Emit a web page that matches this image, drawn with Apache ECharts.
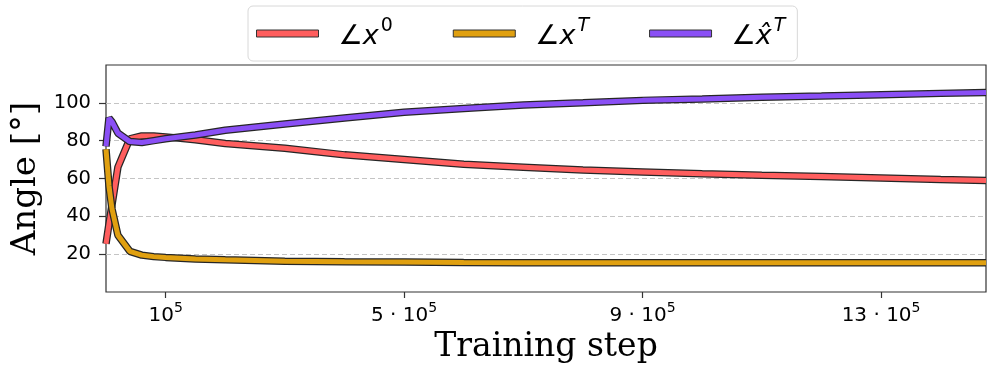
<!DOCTYPE html>
<html>
<head>
<meta charset="utf-8">
<script src="https://cdn.jsdelivr.net/npm/echarts@6/dist/echarts.min.js"></script>
<style>
  html, body { margin: 0; padding: 0; background: #fff; }
  #chart { width: 996px; height: 390px; }
</style>
</head>
<body>
<div id="chart"></div>
<script>
// training steps (x) and angles in degrees
const steps = [0, 5000, 10000, 20000, 40000, 60000, 80000, 100000, 150000, 200000, 300000, 400000,
    500000, 600000, 700000, 800000, 900000, 1000000, 1100000, 1200000, 1300000, 1400000, 1476000];
const angleX0 = [25.5, 36, 46, 66, 81, 82.5, 82.5, 82, 80.5, 78.5, 76, 72.5,
    70, 67.5, 66, 64.5, 63.5, 62.5, 61.7, 61, 60.3, 59.5, 59];
const angleXT = [75.5, 56, 44, 30, 21.5, 19.5, 18.7, 18.3, 17.5, 17, 16.3, 16,
    15.8, 15.6, 15.5, 15.4, 15.4, 15.4, 15.5, 15.5, 15.5, 15.5, 15.5];
const angleXhatT = [77, 92, 90, 84, 79.5, 79, 80, 81, 83, 85.5, 88.8, 92,
    95, 97, 98.8, 100, 101.3, 102, 103, 103.6, 104.3, 105, 105.5];

const xTicks = [100000, 500000, 900000, 1300000];
const yTicks = [20, 40, 60, 80, 100];

const seriesDefs = [
    { name: 'x0', values: angleX0, color: '#ff5e5e' },
    { name: 'xT', values: angleXT, color: '#e0a010' },
    { name: 'xhatT', values: angleXhatT, color: '#8a4ff5' }
];

function zip(xs, ys) {
    return xs.map(function (x, i) { return [x, ys[i]]; });
}

const legendText = {
    x0: '{a|∠}{x|x}{n|0}',
    xT: '{a|∠}{x|x}{s|T}',
    xhatT: '{a|∠}{x|x\u0302}{s|T}'
};

let series = [];
seriesDefs.forEach(function (d) {
    // dark outline first, then the coloured line on top
    series.push({
        type: 'line', name: d.name + '_edge', data: zip(steps, d.values),
        showSymbol: false, silent: true, animation: false,
        lineStyle: { color: '#262626', width: 7.5 }
    });
    series.push({
        type: 'line', name: d.name, data: zip(steps, d.values),
        showSymbol: false, animation: false, legendIcon: 'rect',
        itemStyle: { color: d.color },
        lineStyle: { color: d.color, width: 5 }
    });
});

const chart = echarts.init(document.getElementById('chart'));
chart.setOption({
    backgroundColor: '#fff',
    grid: { left: 106, right: 10, top: 65, bottom: 98, show: true, borderColor: '#333', borderWidth: 1.2, backgroundColor: 'transparent' },
    legend: {
        data: seriesDefs.map(function (d) { return d.name; }),
        left: 248, top: 6,
        icon: 'rect', itemWidth: 62, itemHeight: 7, itemGap: 60,
        itemStyle: { borderColor: '#333', borderWidth: 1 },
        padding: [11, 12, 11, 8],
        borderColor: '#d8d8d8', borderWidth: 1, borderRadius: 5,
        formatter: function (name) { return legendText[name]; },
        textStyle: {
            rich: {
                a: { fontFamily: 'DejaVu Sans', fontSize: 27, color: '#000', lineHeight: 33, verticalAlign: 'bottom', padding: [0, 0, 0, 15] },
                x: { fontFamily: 'DejaVu Sans', fontStyle: 'italic', fontSize: 27, color: '#000', lineHeight: 33, verticalAlign: 'bottom' },
                s: { fontFamily: 'DejaVu Sans', fontStyle: 'italic', fontSize: 19, color: '#000', lineHeight: 19, verticalAlign: 'top', padding: [0, 0, 0, 2] },
                n: { fontFamily: 'DejaVu Sans', fontSize: 19, color: '#000', lineHeight: 19, verticalAlign: 'top', padding: [0, 0, 0, 2] }
            }
        }
    },
    xAxis: {
        type: 'value', min: 0, max: 1476000,
        name: 'Training step', nameLocation: 'middle', nameGap: 38,
        nameTextStyle: { fontFamily: 'DejaVu Serif', fontSize: 33, color: '#000' },
        axisLine: { show: false },
        axisTick: { show: true, length: 6, customValues: xTicks, lineStyle: { color: '#333', width: 1.2 } },
        splitLine: { show: false },
        axisLabel: {
            customValues: xTicks, margin: 9,
            formatter: function (v) {
                const m = Math.round(v / 100000);
                return m === 1 ? '{b|10}{s|5}' : '{b|' + m + ' · 10}{s|5}';
            },
            rich: {
                b: { fontFamily: 'DejaVu Sans', fontSize: 20, color: '#000', lineHeight: 25, verticalAlign: 'bottom' },
                s: { fontFamily: 'DejaVu Sans', fontSize: 14, color: '#000', lineHeight: 14, verticalAlign: 'top' }
            }
        }
    },
    yAxis: {
        type: 'value', min: 0, max: 120,
        name: 'Angle [°]', nameLocation: 'middle', nameGap: 62,
        nameTextStyle: { fontFamily: 'DejaVu Serif', fontSize: 34, color: '#000' },
        axisLine: { show: false },
        axisTick: { show: true, length: 7, customValues: yTicks, lineStyle: { color: '#333', width: 1.2 } },
        axisLabel: { customValues: yTicks, margin: 15, fontFamily: 'DejaVu Sans', fontSize: 19.5, color: '#000' },
        splitLine: { show: true, lineStyle: { color: '#c4c4c4', type: [5, 3], width: 1 } }
    },
    series: series
});
</script>
</body>
</html>
